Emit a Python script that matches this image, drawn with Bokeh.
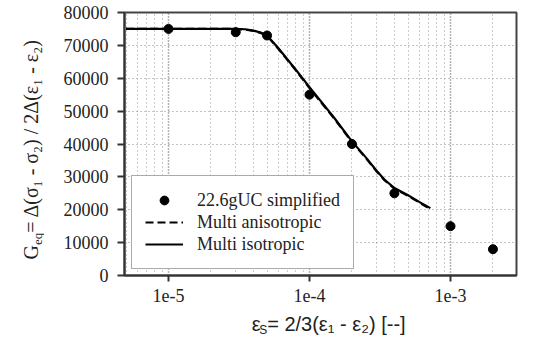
from bokeh.plotting import figure
from bokeh.layouts import row, column
from bokeh.models import FixedTicker, Label, Legend, LegendItem, Range1d
from bokeh.embed import file_html
from bokeh.resources import INLINE
import math

# ---------------- data ----------------
strain_exp = [1e-5, 3e-5, 5e-5, 1e-4, 2e-4, 4e-4, 1e-3, 2e-3]
g_exp = [75000, 74000, 73000, 55000, 40000, 25000, 15000, 8000]

strain_iso = [5e-6, 1e-5, 2e-5, 3e-5, 3.5e-5, 4e-5, 4.5e-5, 5e-5, 6e-5, 8e-5,
              1e-4, 1.5e-4, 2e-4, 2.5e-4, 3e-4, 3.4e-4, 4e-4, 5e-4, 6e-4, 7.2e-4]
g_iso = [75000, 75000, 75000, 75000, 74900, 74500, 73900, 73000, 69200, 62600,
         57300, 47900, 40800, 36000, 31800, 29200, 26600, 24400, 22400, 20500]

strain_aniso = [5e-6, 1e-5, 2e-5, 3e-5, 3.5e-5, 4e-5, 4.5e-5, 5e-5, 6e-5, 8e-5,
                1e-4, 1.5e-4, 2e-4, 2.5e-4, 3e-4, 3.4e-4, 4e-4, 5e-4, 6e-4, 6.9e-4]
g_aniso = [75000, 75000, 75000, 75000, 74800, 74400, 73800, 72900, 69000, 62400,
           57000, 47700, 40600, 35800, 31600, 29000, 26400, 24200, 22200, 20700]

x_major = [1e-5, 1e-4, 1e-3]
x_tick_labels = ["1e-5", "1e-4", "1e-3"]
x_minor = [m * 10.0 ** e for e in (-6, -5, -4, -3) for m in range(2, 10)]
y_ticks = [0, 10000, 20000, 30000, 40000, 50000, 60000, 70000, 80000]
y_tick_labels = ["0", "10000", "20000", "30000", "40000", "50000", "60000", "70000", "80000"]

legend_labels = ["22.6gUC simplified", "Multi anisotropic", "Multi isotropic"]
y_title = ["G", "eq", " = Δ(σ₁ - σ₂) / 2Δ(ε₁ - ε₂)"]
x_title = ["ε", "S", " = 2/3(ε₁ - ε₂)  [--]"]

SERIF = "Liberation Serif"
SANS = "Liberation Sans"
TXT = "#222222"

LEFT_W, MAIN_W, MAIN_H, BOT_H = 44, 474, 309, 27

# ---------------- main plot ----------------
p = figure(width=MAIN_W, height=MAIN_H, x_axis_type="log",
           x_range=Range1d(10 ** -5.312, 10 ** -2.532), y_range=Range1d(0, 80000),
           output_backend="svg", toolbar_location=None,
           min_border_left=80, min_border_right=2, min_border_top=12, min_border_bottom=34)
p.background_fill_color = "white"
p.border_fill_color = "white"
p.outline_line_color = "#444444"
p.outline_line_width = 2

p.xaxis.ticker = FixedTicker(ticks=x_major, minor_ticks=x_minor)
p.xaxis.major_label_overrides = {t: l for t, l in zip(x_major, x_tick_labels)}
p.yaxis.ticker = FixedTicker(ticks=y_ticks)
p.yaxis.major_label_overrides = {t: l for t, l in zip(y_ticks, y_tick_labels)}
for ax in (p.xaxis, p.yaxis):
    ax.axis_line_color = "#333333"
    ax.axis_line_width = 2
    ax.major_tick_line_color = "#333333"
    ax.major_tick_line_width = 2
    ax.major_tick_in = 0
    ax.minor_tick_in = 0
    ax.minor_tick_out = 0
    ax.major_label_text_font = SERIF
    ax.major_label_text_font_size = "18px"
    ax.major_label_text_color = TXT
p.xaxis.major_tick_out = 6
p.xaxis.major_label_standoff = 7
p.yaxis.major_tick_out = 7
p.yaxis.major_label_standoff = 9

p.ygrid.grid_line_color = "#888888"
p.ygrid.grid_line_dash = "1 3"
p.ygrid.grid_line_width = 1.2
p.xgrid.grid_line_color = "#666666"
p.xgrid.grid_line_dash = "1 2"
p.xgrid.grid_line_width = 1.5
p.xgrid.minor_grid_line_color = "#999999"
p.xgrid.minor_grid_line_dash = "1 3"
p.xgrid.minor_grid_line_width = 1

r_pts = p.scatter(strain_exp, g_exp, size=9, color="black")
r_aniso = p.line(strain_aniso, g_aniso, line_color="black", line_width=2.2, line_dash="8 4")
r_iso = p.line(strain_iso, g_iso, line_color="black", line_width=2.2)

legend = Legend(items=[LegendItem(label=legend_labels[0], renderers=[r_pts]),
                       LegendItem(label=legend_labels[1], renderers=[r_aniso]),
                       LegendItem(label=legend_labels[2], renderers=[r_iso])],
                location=(7, 6))
legend.label_text_font = SERIF
legend.label_text_font_size = "18px"
legend.label_text_color = TXT
legend.label_height = 22
legend.glyph_height = 22
legend.glyph_width = 38
legend.label_standoff = 14
legend.padding = 13
legend.spacing = 0
legend.margin = 0
legend.border_line_color = "#555555"
legend.border_line_width = 1.5
legend.background_fill_color = "white"
legend.background_fill_alpha = 1
p.add_layout(legend, "center")


# ---------------- title strips ----------------
def strip(w, h):
    f = figure(width=w, height=h, x_range=Range1d(0, w), y_range=Range1d(0, h),
               x_axis_location=None, y_axis_location=None, min_border=0,
               output_backend="svg", toolbar_location=None)
    f.grid.visible = False
    f.outline_line_color = None
    f.background_fill_color = "white"
    f.border_fill_color = "white"
    return f


# y title (rotated): G, subscript "eq", then the rest
left = strip(LEFT_W, MAIN_H + BOT_H)
mid_x, y0 = 30, 77
g_adv, eq_adv = 14.4, 12.3
left.add_layout(Label(x=mid_x, y=y0, text=y_title[0], angle=math.pi / 2, text_font=SERIF,
                      text_font_size="20px", text_color=TXT, text_baseline="middle"))
left.add_layout(Label(x=mid_x + 6.5, y=y0 + g_adv, text=y_title[1], angle=math.pi / 2,
                      text_font=SERIF, text_font_size="13px", text_color=TXT,
                      text_baseline="middle"))
left.add_layout(Label(x=mid_x, y=y0 + g_adv + eq_adv, text=y_title[2], angle=math.pi / 2,
                      text_font=SERIF, text_font_size="20px", text_color=TXT,
                      text_baseline="middle"))

# x title: epsilon, subscript S, then the rest
bottom = strip(MAIN_W, BOT_H)
bx, by = 154, 12.5
e_adv, s_adv = 9.0, 9.5
bottom.add_layout(Label(x=bx, y=by, text=x_title[0], text_font=SANS, text_font_size="20px",
                        text_color=TXT, text_baseline="middle"))
bottom.add_layout(Label(x=bx + e_adv, y=by - 5.5, text=x_title[1], text_font=SANS,
                        text_font_size="12px", text_color=TXT, text_baseline="middle"))
bottom.add_layout(Label(x=bx + e_adv + s_adv, y=by, text=x_title[2], text_font=SANS,
                        text_font_size="20px", text_color=TXT, text_baseline="middle"))

layout = row(left, column(p, bottom))
open("out.html", "w").write(file_html(layout, INLINE))
